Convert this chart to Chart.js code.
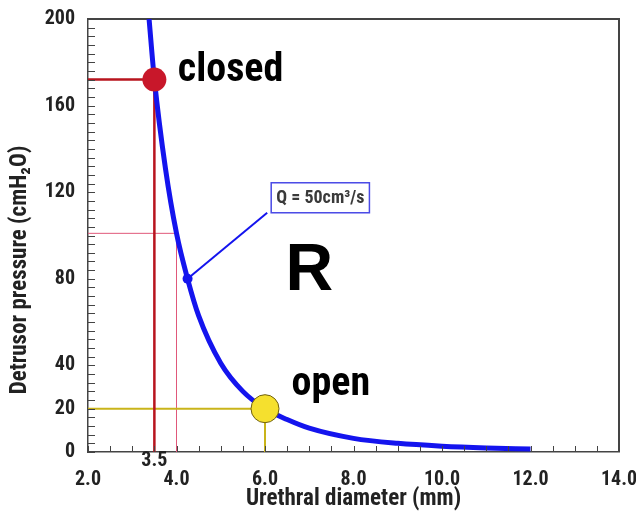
<!DOCTYPE html>
<html lang="en">
<head>
<meta charset="UTF-8">
<title>Detrusor pressure vs urethral diameter</title>
<script src="https://cdn.jsdelivr.net/npm/chart.js@4.4.0/dist/chart.umd.min.js"></script>
<style>
  html, body { margin: 0; padding: 0; background: #fff; }
  #wrap { width: 636px; height: 515px; }
</style>
</head>
<body>
<div id="wrap"><canvas id="chart" width="636" height="515"></canvas></div>
<script>
// curve (Q = 50 cm3/s)
const diameter = [3.38, 3.5, 3.75, 4.0, 4.25, 4.5, 5.0, 5.5, 6.0, 6.5, 7.0, 8.0, 9.0, 10.0, 11.0, 12.0];
const pressure = [200, 172, 131, 101, 80, 63, 41, 28, 20, 15, 11, 6.3, 4.0, 2.7, 1.9, 1.4];

// marked points [diameter, pressure]
const closedPt = [3.5, 172];
const openPt = [6.0, 20];
const guidePt = [4.0, 101];
const flowPt = [4.25, 80];

// tick labels
const yLabels = [0, 20, 40, 80, 120, 160, 200];
const xLabels = [2, 4, 6, 8, 10, 12, 14];
const xExtraLabel = 3.5;

// axis range
const xRange = [2, 14];
const yRange = [0, 200];

// condensed face; stretch keyword rides in the weight slot of chart.js fonts
const FAMILY = "Roboto, 'DejaVu Sans', sans-serif";
const COND = 'condensed bold ';
const AXIS = '#444';

// guide line from y axis to point, then down to x axis
function guide(p) {
  return [{x: xRange[0], y: p[1]}, {x: p[0], y: p[1]}, {x: p[0], y: yRange[0]}];
}

const curve = diameter.map((d, i) => ({x: d, y: pressure[i]}));

// top + right edge of the plot box
const frame = [
  {x: xRange[0], y: yRange[1]},
  {x: xRange[1], y: yRange[1]},
  {x: xRange[1], y: yRange[0]}
];

const decor = {
  id: 'decor',
  afterDraw(chart) {
    const {ctx, chartArea: a, scales: {x, y}} = chart;
    ctx.save();

    // inward tick marks
    ctx.fillStyle = AXIS;
    y.ticks.forEach(t => {
      const py = Math.round(y.getPixelForValue(t.value));
      ctx.fillRect(a.left, py, 7, 1);
    });
    x.ticks.forEach(t => {
      const px = Math.round(x.getPixelForValue(t.value));
      ctx.fillRect(px, a.bottom - 6, 1, 6);
    });

    // extra 3.5 label under the axis
    ctx.fillStyle = '#222';
    ctx.font = COND + '20px ' + FAMILY;
    ctx.textAlign = 'center';
    ctx.textBaseline = 'middle';
    ctx.fillText(xExtraLabel.toFixed(1), x.getPixelForValue(xExtraLabel), a.bottom + 9);

    // axis titles
    ctx.font = COND + '23px ' + FAMILY;
    ctx.fillText('Urethral diameter (mm)', (a.left + a.right) / 2, 499);
    ctx.save();
    ctx.translate(20, 270);
    ctx.rotate(-Math.PI / 2);
    ctx.fillText('Detrusor pressure (cmH\u2082O)', 0, 0);
    ctx.restore();

    // flow annotation: pointer + box
    const fx = x.getPixelForValue(flowPt[0]), fy = y.getPixelForValue(flowPt[1]);
    const bx = x.getPixelForValue(6.14), by = y.getPixelForValue(110.5);
    ctx.font = COND + '18px ' + FAMILY;
    const label = 'Q = 50cm\u00b3/s';
    const bw = ctx.measureText(label).width + 10, bh = 30;
    ctx.strokeStyle = '#1414ee';
    ctx.lineWidth = 2;
    ctx.beginPath();
    ctx.moveTo(fx, fy);
    ctx.lineTo(bx - 4, by);
    ctx.stroke();
    ctx.strokeStyle = '#4a4ae6';
    ctx.lineWidth = 1.5;
    ctx.strokeRect(bx, by - bh, bw, bh);
    ctx.fillStyle = '#3a3a3a';
    ctx.textAlign = 'left';
    ctx.fillText(label, bx + 5, by - bh / 2 + 1);

    // state labels
    ctx.fillStyle = '#000';
    ctx.textBaseline = 'alphabetic';
    ctx.font = 'semi-condensed bold 40px ' + FAMILY;
    ctx.fillText('closed', x.getPixelForValue(4.03), y.getPixelForValue(171.5));
    ctx.fillText('open', x.getPixelForValue(6.6), y.getPixelForValue(26.5));
    ctx.font = "bold 66px 'Liberation Sans', Arial, sans-serif";
    ctx.textAlign = 'center';
    ctx.fillText('R', x.getPixelForValue(7.0), y.getPixelForValue(75));

    ctx.restore();
  }
};

new Chart(document.getElementById('chart'), {
  type: 'scatter',
  data: {
    datasets: [
      { // marked points (top-most)
        data: [
          {x: closedPt[0], y: closedPt[1]},
          {x: openPt[0], y: openPt[1]},
          {x: flowPt[0], y: flowPt[1]}
        ],
        pointRadius: [12, 14, 5],
        pointBackgroundColor: ['#c8172a', '#f5e02e', '#1414ee'],
        pointBorderColor: ['#c8172a', '#6e5f10', '#1414ee'],
        pointBorderWidth: [0, 1, 0],
        showLine: false
      },
      { // Q = 50 curve
        data: curve,
        showLine: true,
        borderColor: '#1414ee',
        borderWidth: 5,
        pointRadius: 0,
        cubicInterpolationMode: 'monotone'
      },
      { // closed guide
        data: guide(closedPt),
        showLine: true,
        borderColor: '#b8141e',
        borderWidth: 2.5,
        pointRadius: 0
      },
      { // open guide
        data: guide(openPt),
        showLine: true,
        borderColor: '#c9b41a',
        borderWidth: 2,
        pointRadius: 0
      },
      { // thin guide at 4.0
        data: guide(guidePt),
        showLine: true,
        borderColor: '#e0587a',
        borderWidth: 1,
        pointRadius: 0
      },
      { // plot box top/right edge
        data: frame,
        showLine: true,
        borderColor: AXIS,
        borderWidth: 2,
        pointRadius: 0,
        clip: false
      }
    ]
  },
  options: {
    responsive: false,
    animation: false,
    events: [],
    layout: { padding: { top: 19, right: 17, left: 0, bottom: 0 } },
    plugins: { legend: { display: false }, tooltip: { enabled: false } },
    scales: {
      x: {
        type: 'linear',
        min: xRange[0], max: xRange[1],
        afterFit: s => { s.height = 63; s.paddingLeft = 0; s.paddingRight = 0; },
        border: { display: true, color: AXIS, width: 1.5 },
        grid: { display: true, drawOnChartArea: false, drawTicks: false },
        ticks: {
          stepSize: 0.5,
          autoSkip: false,
          maxRotation: 0,
          padding: 16,
          color: '#222',
          font: { family: FAMILY, size: 20, weight: 'condensed bold' },
          callback: v => xLabels.includes(v) ? v.toFixed(1) : ''
        }
      },
      y: {
        min: yRange[0], max: yRange[1],
        afterFit: s => { s.width = 88; s.paddingTop = 0; s.paddingBottom = 0; },
        border: { display: true, color: AXIS, width: 1.5 },
        grid: { display: true, drawOnChartArea: false, drawTicks: false },
        ticks: {
          stepSize: 4,
          autoSkip: false,
          padding: 13,
          color: '#222',
          font: { family: FAMILY, size: 20, weight: 'condensed bold' },
          callback: v => yLabels.includes(v) ? String(v) : ''
        }
      }
    }
  },
  plugins: [decor]
});
</script>
</body>
</html>
